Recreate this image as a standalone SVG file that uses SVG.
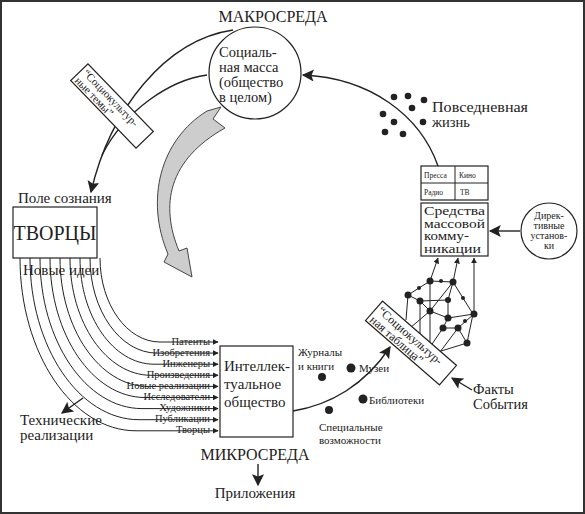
<svg xmlns="http://www.w3.org/2000/svg" width="585" height="514" viewBox="0 0 585 514" font-family="'Liberation Serif','Times New Roman',serif">
<style>
text{font-family:"Liberation Serif","Times New Roman",serif;fill:#222}
.ln{fill:none;stroke:#222;stroke-width:1.4}
.th{fill:none;stroke:#222;stroke-width:1}
.bx{fill:#fff;stroke:#222;stroke-width:1.2}
.dot{fill:#222}
.lab{font-size:10.5px;text-anchor:end}
.sm{font-size:11px}
.mm{font-size:12px}
</style>
<defs>
<marker id="big" viewBox="0 0 10 10" refX="9" refY="5" markerWidth="14" markerHeight="12" markerUnits="userSpaceOnUse" orient="auto"><path d="M0,0 L10,5 L0,10 L2,5 Z" fill="#222"/></marker>
<marker id="sm" viewBox="0 0 10 10" refX="9" refY="5" markerWidth="6" markerHeight="6" markerUnits="userSpaceOnUse" orient="auto"><path d="M0,0 L10,5 L0,10 Z" fill="#222"/></marker>
</defs>
<rect x="1" y="1" width="583" height="512" fill="#fff" stroke="#333" stroke-width="2"/>

<g id="connectors">
<path class="ln" d="M233,30 C165,40 110,110 91,192" marker-end="url(#big)"/>
<path class="ln" d="M207,75 C170,80 125,110 102,155"/>
<path class="ln" d="M438,166 C420,115 370,78 303,75" marker-end="url(#big)"/>
<path class="ln" d="M520,231 L490,231" marker-end="url(#big)"/>
<path class="ln" d="M293,411 C330,405 365,385 390,347" marker-end="url(#big)"/>
<path class="ln" d="M472,390 L452,378" marker-end="url(#big)"/>
<path class="ln" d="M83,398 L62,413" marker-end="url(#big)"/>
<path class="ln" d="M258,464 L258,485" marker-end="url(#big)"/>
<path d="M207,111 C160,140 145,200 168,254 L164,262 L192,277 L187,248 L179,251 C160,205 168,160 225,128 L213,119 L221,107 Z" fill="#cdcdcd" stroke="#444" stroke-width="1"/>
<g class="th">
<path d="M100,258 C100,304.2 127,342 160,342 L218,342" marker-end="url(#sm)"/>
<path d="M90,258 C90,310.3 120.1,353.1 157,353.1 L218,353.1" marker-end="url(#sm)"/>
<path d="M80,258 C80,316.4 113.3,364.2 154,364.2 L218,364.2" marker-end="url(#sm)"/>
<path d="M70,258 C70,322.5 106.4,375.3 151,375.3 L218,375.3" marker-end="url(#sm)"/>
<path d="M60,258 C60,328.6 99.6,386.4 148,386.4 L218,386.4" marker-end="url(#sm)"/>
<path d="M50,258 C50,334.7 92.7,397.5 145,397.5 L218,397.5" marker-end="url(#sm)"/>
<path d="M40,258 C40,340.8 85.9,408.6 142,408.6 L218,408.6" marker-end="url(#sm)"/>
<path d="M30,258 C30,346.9 79,419.7 139,419.7 L218,419.7" marker-end="url(#sm)"/>
<path d="M20,258 C20,353 72.2,430.8 136,430.8 L218,430.8" marker-end="url(#sm)"/>
</g>
<g id="network">
<g class="th">
<path d="M430,281 L438,258" marker-end="url(#sm)"/>
<path d="M453,282 L458,258" marker-end="url(#sm)"/>
<path d="M474,314 L474,258" marker-end="url(#sm)"/>
<path d="M408,295 L430,281 L453,282 L473,314 L467,343 L425,356"/>
<path d="M453,282 L430,311 L410,328"/>
<path d="M430,281 L430,311"/>
<path d="M408,295 L406,320"/>
<path d="M408,295 L420,301 L430,311 L448,318 L474,314"/>
<path d="M420,301 L420,335"/>
<path d="M448,318 L443,328 L430,347"/>
<path d="M443,328 L458,328 L474,314"/>
<path d="M458,328 L467,343"/>
<path d="M430,311 L430,345"/>
<path d="M448,300 L448,318"/>
<path d="M453,282 L448,300 L420,301"/>
<path d="M458,328 L440,352"/>
</g>
<circle class="dot" cx="430" cy="281" r="3.5"/>
<circle class="dot" cx="453" cy="282" r="3.5"/>
<circle class="dot" cx="408" cy="295" r="3.5"/>
<circle class="dot" cx="420" cy="301" r="3.5"/>
<circle class="dot" cx="430" cy="311" r="3.5"/>
<circle class="dot" cx="448" cy="318" r="3.5"/>
<circle class="dot" cx="474" cy="314" r="3.5"/>
<circle class="dot" cx="443" cy="328" r="3.5"/>
<circle class="dot" cx="458" cy="328" r="3.5"/>
<circle class="dot" cx="467" cy="343" r="3.5"/>
<circle class="dot" cx="448" cy="300" r="3"/>
<circle class="dot" cx="419" cy="288" r="2"/>
<circle class="dot" cx="441" cy="281" r="2"/>
<circle class="dot" cx="463" cy="298" r="2"/>
<circle class="dot" cx="465" cy="321" r="2"/>
</g>
</g>

<text x="273" y="22" font-size="16" text-anchor="middle">МАКРОСРЕДА</text>

<g id="social-mass">
<circle cx="255" cy="73" r="46" class="bx"/>
<text x="219" y="57" font-size="14.5">Социаль-</text>
<text x="219" y="72" font-size="14.5">ная масса</text>
<text x="219" y="87" font-size="14.5">(общество</text>
<text x="219" y="102" font-size="14.5">в целом)</text>
</g>

<g id="themes" transform="translate(112,106) rotate(46)">
<rect x="-47" y="-12" width="94" height="24" class="bx"/>
<text x="-44" y="-1" font-size="11">“Социокультур-</text>
<text x="-44" y="10" font-size="11">ные темы”</text>
</g>

<g id="everyday">
<circle class="dot" cx="394" cy="97" r="3.3"/>
<circle class="dot" cx="408" cy="96" r="3.3"/>
<circle class="dot" cx="424" cy="100" r="3.3"/>
<circle class="dot" cx="412" cy="108" r="3.3"/>
<circle class="dot" cx="383" cy="114" r="3.3"/>
<circle class="dot" cx="394" cy="122" r="3.3"/>
<circle class="dot" cx="423" cy="122" r="3.3"/>
<circle class="dot" cx="385" cy="132" r="3.3"/>
<circle class="dot" cx="403" cy="134" r="3.3"/>
<text x="432" y="112" font-size="14.5" textLength="96" lengthAdjust="spacingAndGlyphs">Повседневная</text>
<text x="432" y="127" font-size="14.5">жизнь</text>
</g>

<g id="media-table">
<rect x="421" y="166" width="67" height="34" class="bx"/>
<line x1="421" y1="183" x2="488" y2="183" class="th"/>
<line x1="455" y1="166" x2="455" y2="200" class="th"/>
<text x="424" y="178" font-size="7.5">Пресса</text>
<text x="459" y="178" font-size="7.5">Кино</text>
<text x="424" y="195" font-size="7.5">Радио</text>
<text x="460" y="195" font-size="7.5">ТВ</text>
</g>

<g id="mass-media">
<rect x="421" y="203" width="67" height="53" class="bx"/>
<text class="mm" x="424" y="215" textLength="61" lengthAdjust="spacingAndGlyphs">Средства</text>
<text class="mm" x="424" y="227.5" textLength="61" lengthAdjust="spacingAndGlyphs">массовой</text>
<text class="mm" x="424" y="240" textLength="45" lengthAdjust="spacingAndGlyphs">комму-</text>
<text class="mm" x="424" y="252.5" textLength="57" lengthAdjust="spacingAndGlyphs">никации</text>
</g>

<g id="directives">
<circle cx="549" cy="231" r="28" class="bx"/>
<text x="549" y="219" font-size="10" text-anchor="middle">Дирек-</text>
<text x="549" y="229" font-size="10" text-anchor="middle">тивные</text>
<text x="549" y="239" font-size="10" text-anchor="middle">установ-</text>
<text x="549" y="249" font-size="10" text-anchor="middle">ки</text>
</g>

<g id="table" transform="translate(411,343) rotate(41)">
<rect x="-49" y="-13" width="98" height="26" class="bx"/>
<text x="-46" y="-1" font-size="12">“Социокультур-</text>
<text x="-46" y="11" font-size="12">ная таблица”</text>
</g>

<g id="creators">
<text x="18" y="203" font-size="15">Поле сознания</text>
<rect x="13" y="207" width="84" height="51" class="bx"/>
<text x="55" y="240" font-size="20" text-anchor="middle">ТВОРЦЫ</text>
<text x="23" y="275" font-size="15">Новые идеи</text>
</g>

<g id="labels">
<text class="lab" x="210" y="345">Патенты</text>
<text class="lab" x="210" y="356">Изобретения</text>
<text class="lab" x="210" y="367">Инженеры</text>
<text class="lab" x="210" y="378">Произведения</text>
<text class="lab" x="210" y="389">Новые реализации</text>
<text class="lab" x="210" y="400">Исследователи</text>
<text class="lab" x="210" y="411">Художники</text>
<text class="lab" x="210" y="422">Публикации</text>
<text class="lab" x="210" y="433">Творцы</text>
</g>

<g id="intellectual">
<rect x="220" y="346" width="73" height="91" class="bx"/>
<text x="224" y="371" font-size="15">Интеллек-</text>
<text x="224" y="389" font-size="15">туальное</text>
<text x="224" y="407" font-size="15">общество</text>
</g>

<g id="resources">
<text class="sm" x="298" y="356">Журналы</text>
<text class="sm" x="298" y="370">и книги</text>
<circle class="dot" cx="322" cy="377" r="4"/>
<circle class="dot" cx="351" cy="368" r="4.5"/>
<text class="sm" x="359" y="372">Музеи</text>
<circle class="dot" cx="363" cy="399" r="4.5"/>
<text class="sm" x="369" y="404">Библиотеки</text>
<circle class="dot" cx="329" cy="410" r="4"/>
<text class="sm" x="319" y="431">Специальные</text>
<text class="sm" x="319" y="444">возможности</text>
</g>

<g id="facts">
<text x="473" y="394" font-size="14.5">Факты</text>
<text x="473" y="409" font-size="14.5">События</text>
</g>

<g id="tech">
<text x="20" y="425" font-size="15">Технические</text>
<text x="20" y="440" font-size="15">реализации</text>
</g>

<text x="255" y="460" font-size="16" text-anchor="middle">МИКРОСРЕДА</text>
<text x="255" y="498" font-size="15" text-anchor="middle">Приложения</text>
</svg>
